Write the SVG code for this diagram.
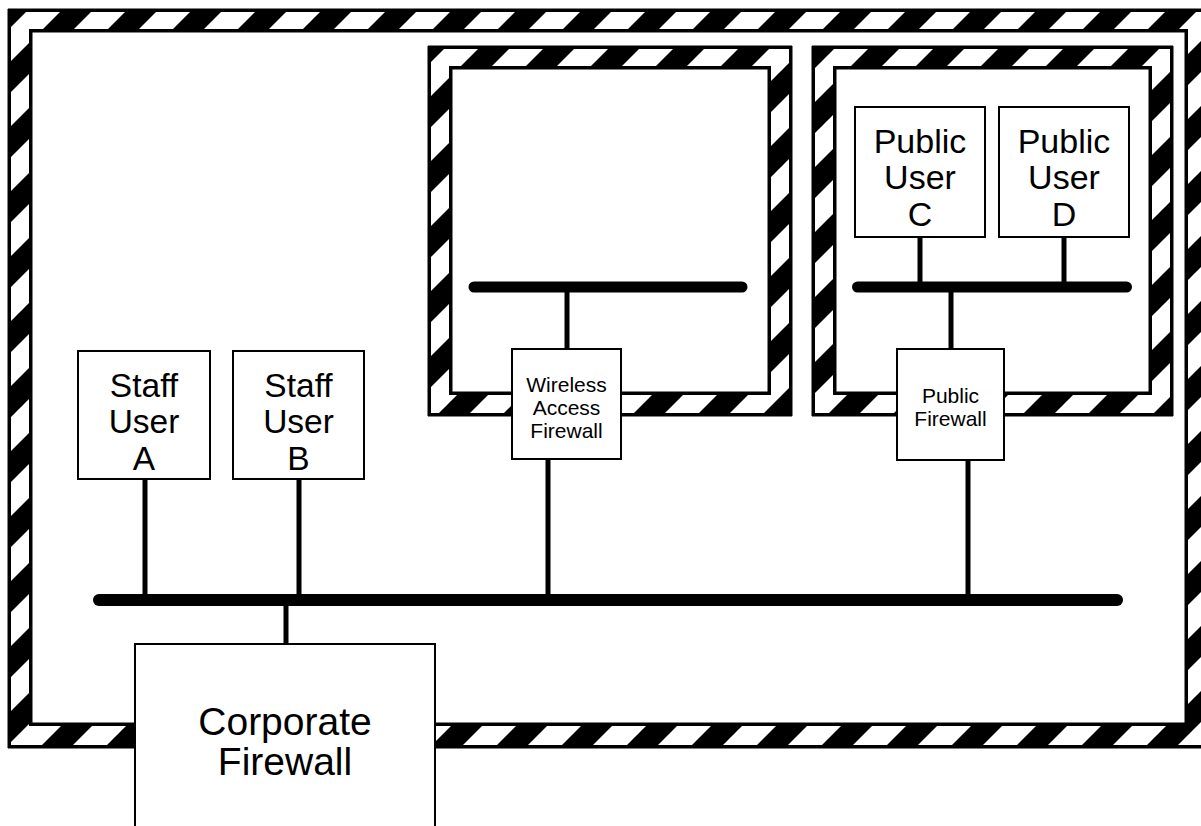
<svg xmlns="http://www.w3.org/2000/svg" width="1201" height="826" viewBox="0 0 1201 826">
<defs>
<pattern id="hz" patternUnits="userSpaceOnUse" x="0" y="0" width="65" height="65">
<rect width="65" height="65" fill="#000"/>
<polygon points="0,0 7,0 0,7" fill="#fff"/>
<polygon points="38,0 65,0 65,7 7,65 0,65 0,38" fill="#fff"/>
<polygon points="65,38 65,65 38,65" fill="#fff"/>
</pattern>
</defs>
<style>
.band{fill:#000;stroke:#000;stroke-width:1;fill-rule:evenodd}
.stripes{fill:url(#hz);fill-rule:evenodd}
.box{fill:#fff;stroke:#000;stroke-width:2}
.bus{stroke:#000;stroke-linecap:round;fill:none}
.link{stroke:#000;stroke-width:5;fill:none}
text{font-family:"Liberation Sans",Arial,sans-serif;fill:#000;text-anchor:middle}
</style>
<rect width="1201" height="826" fill="#fff"/>
<g id="corporate-zone">
<path class="band" d="M8,9H1209V748H8Z M32,32V723H1185V32Z"/>
<path class="stripes" d="M11,12H1206V745H11Z M29,29V726H1188V29Z"/>
</g>
<g id="wireless-zone">
<path class="band" d="M428,46H792V416H428Z M452,69V392H768V69Z"/>
<path class="stripes" d="M431,49H789V413H431Z M449,66V395H771V66Z"/>
</g>
<g id="public-zone">
<path class="band" d="M812,46H1173V416H812Z M836,69V392H1149V69Z"/>
<path class="stripes" d="M815,49H1170V413H815Z M833,66V395H1152V66Z"/>
</g>
<g id="connectors">
<line class="bus" x1="99" y1="600" x2="1117" y2="600" stroke-width="12"/>
<line class="bus" x1="474" y1="287" x2="742" y2="287" stroke-width="11"/>
<line class="bus" x1="857.5" y1="287" x2="1126.5" y2="287" stroke-width="11"/>
<line class="link" x1="145" y1="479" x2="145" y2="600"/>
<line class="link" x1="299" y1="479" x2="299" y2="600"/>
<line class="link" x1="286" y1="600" x2="286" y2="644"/>
<line class="link" x1="548" y1="459" x2="548" y2="600"/>
<line class="link" x1="968" y1="460" x2="968" y2="600"/>
<line class="link" x1="567" y1="287" x2="567" y2="349"/>
<line class="link" x1="951" y1="287" x2="951" y2="349"/>
<line class="link" x1="920" y1="237" x2="920" y2="287"/>
<line class="link" x1="1064" y1="237" x2="1064" y2="287"/>
</g>
<g id="staff-user-a">
<rect class="box" x="78" y="351" width="132" height="128"/>
<text font-size="33.5"><tspan x="144" y="397">Staff</tspan><tspan x="144" y="433">User</tspan><tspan x="144" y="470">A</tspan></text>
</g>
<g id="staff-user-b">
<rect class="box" x="233" y="351" width="131" height="128"/>
<text font-size="33.5"><tspan x="298.5" y="397">Staff</tspan><tspan x="298.5" y="433">User</tspan><tspan x="298.5" y="470">B</tspan></text>
</g>
<g id="public-user-c">
<rect class="box" x="855" y="107" width="130" height="130"/>
<text font-size="34"><tspan x="920" y="153">Public</tspan><tspan x="920" y="189">User</tspan><tspan x="920" y="226">C</tspan></text>
</g>
<g id="public-user-d">
<rect class="box" x="999" y="107" width="130" height="130"/>
<text font-size="34"><tspan x="1064" y="153">Public</tspan><tspan x="1064" y="189">User</tspan><tspan x="1064" y="226">D</tspan></text>
</g>
<g id="wireless-access-firewall">
<rect class="box" x="512" y="349" width="109" height="110"/>
<text font-size="21"><tspan x="566.5" y="392">Wireless</tspan><tspan x="566.5" y="415">Access</tspan><tspan x="566.5" y="438">Firewall</tspan></text>
</g>
<g id="public-firewall">
<rect class="box" x="897" y="349" width="107" height="111"/>
<text font-size="21"><tspan x="950.5" y="403">Public</tspan><tspan x="950.5" y="426">Firewall</tspan></text>
</g>
<g id="corporate-firewall">
<rect class="box" x="135" y="644" width="300" height="200"/>
<text font-size="39"><tspan x="285" y="735">Corporate</tspan><tspan x="285" y="775">Firewall</tspan></text>
</g>
</svg>
